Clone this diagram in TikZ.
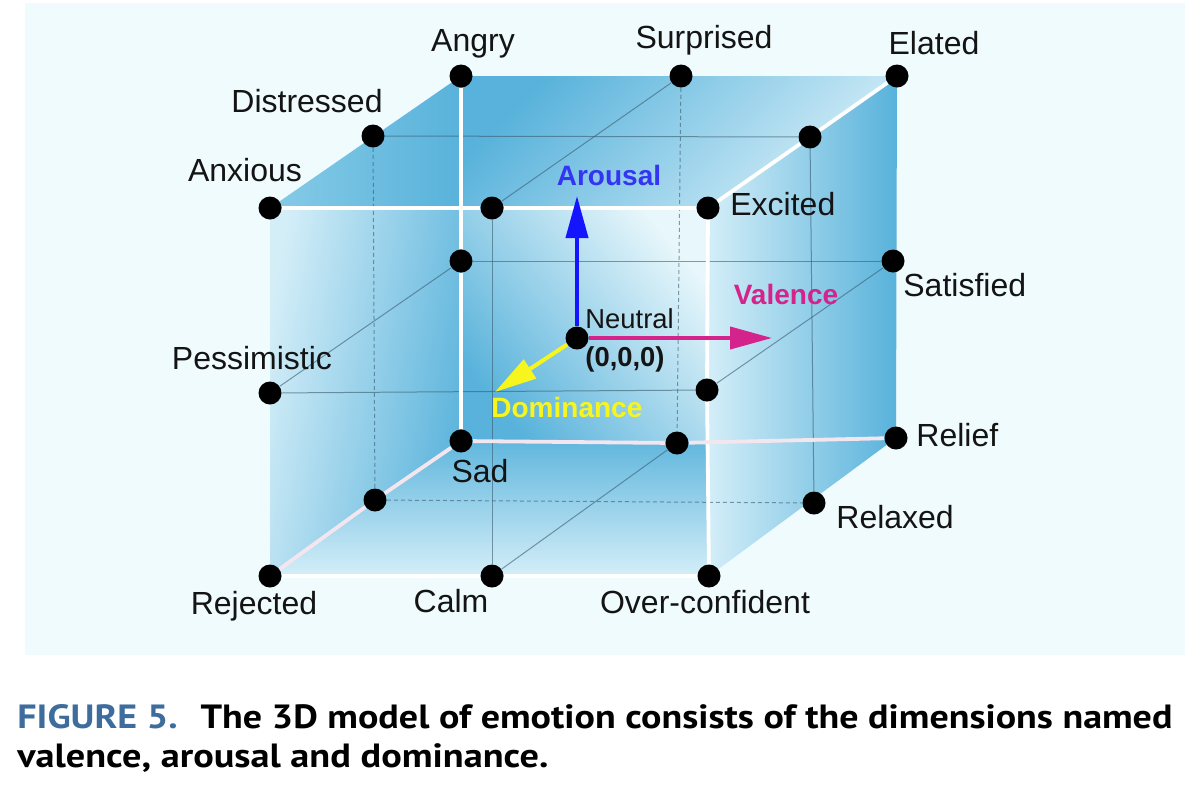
\documentclass[tikz,border=0pt]{standalone}
\usepackage{fontspec}
\setmainfont{Liberation Sans}
\newfontfamily\capfont{PT Sans}
\usepackage{graphicx}
\usetikzlibrary{arrows.meta}
\definecolor{panel}{HTML}{EFFBFC}
\definecolor{cdark}{HTML}{58B2DB}
\definecolor{cmid}{HTML}{86CBE7}
\definecolor{clight}{HTML}{D4EEF8}
\definecolor{cpale}{HTML}{E8F7FB}
\definecolor{gridc}{HTML}{3A5C70}
\definecolor{edgepink}{HTML}{F4E6EE}
\definecolor{aroblue}{HTML}{1414FF}
\definecolor{arotext}{HTML}{3434F2}
\definecolor{valmag}{HTML}{D4248C}
\definecolor{domyel}{HTML}{F6F61E}
\definecolor{figblue}{HTML}{3D6C9D}
\definecolor{txt}{HTML}{141414}
\begin{document}
\begin{tikzpicture}[x=0.5pt,y=-0.5pt,
  dot/.style={circle,fill=black,inner sep=0pt,minimum size=11.5pt},
  lbl/.style={inner sep=0pt,text=txt,font=\fontsize{16}{19}\selectfont},
  whiteedge/.style={draw=white,line width=1.9pt},
  pinkedge/.style={draw=edgepink,line width=1.9pt},
  gridline/.style={draw=gridc,line width=0.5pt,draw opacity=0.6},
  hiddenline/.style={gridline,dash pattern=on 2pt off 1.5pt},
  axisarrow/.style={line width=2pt,-{Triangle[length=21pt,width=11pt]}},
  axislbl/.style={inner sep=0pt,font=\bfseries\fontsize{14}{17}\selectfont},
]
\useasboundingbox (0,0) rectangle (1196,794);
\fill[white] (0,0) rectangle (1196,794);
\fill[panel] (25,3) rectangle (1185,655);

% positions
\coordinate (pang) at (461,76);
\coordinate (psur) at (681,76);
\coordinate (pela) at (897,76);
\coordinate (pdis) at (373,136);
\coordinate (ptm)  at (810,137);
\coordinate (panx) at (270,208);
\coordinate (pftm) at (492,208);
\coordinate (pexc) at (708,208);
\coordinate (pblm) at (461,261);
\coordinate (psat) at (893,261);
\coordinate (pneu) at (577,338);
\coordinate (ppes) at (270,393);
\coordinate (pfrm) at (707,390);
\coordinate (psad) at (461,441);
\coordinate (pbbm) at (677,443);
\coordinate (prel) at (896,438);
\coordinate (plbm) at (375,500);
\coordinate (prlx) at (814,503);
\coordinate (prej) at (270,576);
\coordinate (pcalm) at (492,576);
\coordinate (povc) at (709,576);
\coordinate (ctl) at (461,208);
\coordinate (cbr) at (708,441);

% faces
\shade[left color=cmid, right color=cdark] (panx) -- (pang) -- (ctl) -- cycle;
\shade[top color=cdark, middle color=cmid, bottom color=clight, shading angle=45] (ctl) -- (pang) -- (pela) -- (pexc) -- cycle;
\shade[left color=clight, middle color=cmid, right color=cdark, shading angle=80] (panx) -- (ctl) -- (psad) -- (prej) -- cycle;
\shade[top color=cpale, middle color=cmid!70!cdark, bottom color=cdark, shading angle=-50] (ctl) -- (pexc) -- (cbr) -- (psad) -- cycle;
\shade[top color=cdark!80!cmid, bottom color=clight] (psad) -- (cbr) -- (povc) -- (prej) -- cycle;
\shade[left color=clight, middle color=cmid, right color=cdark] (pexc) -- (pela) -- (prel) -- (povc) -- cycle;

% dots
\node[dot] (ang) at (pang) {};
\node[dot] (sur) at (psur) {};
\node[dot] (ela) at (pela) {};
\node[dot] (dis) at (pdis) {};
\node[dot] (tm) at (ptm) {};
\node[dot] (anx) at (panx) {};
\node[dot] (ftm) at (pftm) {};
\node[dot] (exc) at (pexc) {};
\node[dot] (blm) at (pblm) {};
\node[dot] (sat) at (psat) {};
\node[dot] (neu) at (pneu) {};
\node[dot] (pes) at (ppes) {};
\node[dot] (frm) at (pfrm) {};
\node[dot] (sad) at (psad) {};
\node[dot] (bbm) at (pbbm) {};
\node[dot] (rel) at (prel) {};
\node[dot] (lbm) at (plbm) {};
\node[dot] (rlx) at (prlx) {};
\node[dot] (rej) at (prej) {};
\node[dot] (calm) at (pcalm) {};
\node[dot] (ovc) at (povc) {};

% grid lines
\draw[gridline] (dis) -- (tm);
\draw[gridline] (ftm) -- (sur);
\draw[gridline] (ftm) -- (calm);
\draw[gridline] (pes) -- (frm);
\draw[gridline] (blm) -- (sat);
\draw[gridline] (pes) -- (blm);
\draw[gridline] (calm) -- (bbm);
\draw[gridline] (frm) -- (sat);
\draw[gridline] (tm) -- (rlx);
\draw[hiddenline] (sur) -- (bbm);
\draw[hiddenline] (dis) -- (lbm);
\draw[hiddenline] (lbm) -- (rlx);

% white edges
\draw[whiteedge] (anx) -- (ftm);
\draw[whiteedge] (ftm) -- (exc);
\draw[whiteedge] (exc) -- (tm);
\draw[whiteedge] (tm) -- (ela);
\draw[whiteedge] (exc) -- (frm);
\draw[whiteedge] (frm) -- (ovc);
\draw[whiteedge] (ang) -- (blm);
\draw[whiteedge] (blm) -- (sad);
\draw[whiteedge] (rej) -- (calm);
\draw[whiteedge] (calm) -- (ovc);
\draw[pinkedge] (sad) -- (bbm);
\draw[pinkedge] (bbm) -- (rel);
\draw[pinkedge] (sad) -- (lbm);
\draw[pinkedge] (lbm) -- (rej);

% axes
\coordinate (arotip) at (577,196);
\coordinate (valtip) at (772,338);
\coordinate (domtip) at (495,392);
\draw[axisarrow,draw=aroblue,fill=aroblue] (neu) -- (arotip);
\draw[axisarrow,draw=valmag,fill=valmag] (neu) -- (valtip);
\draw[axisarrow,draw=domyel,fill=domyel] (neu) -- (domtip);

% labels
\node[lbl,anchor=base] (lang) at (473,51) {Angry};
\node[lbl,anchor=base] (lsur) at (704,48) {Surprised};
\node[lbl,anchor=base] (lela) at (934,54) {Elated};
\node[lbl,anchor=base] (ldis) at (307,112) {Distressed};
\node[lbl,anchor=base] (lanx) at (245,181) {Anxious};
\node[lbl,anchor=base west] (lexc) at (730,215) {Excited};
\node[lbl,anchor=base west] (lsat) at (903,296) {Satisfied};
\node[lbl,anchor=base] (lpes) at (252,369) {Pessimistic};
\node[lbl,anchor=base west] (lrel) at (916,446) {Relief};
\node[lbl,anchor=base] (lsad) at (480,482) {Sad};
\node[lbl,anchor=base west] (lrlx) at (836,528) {Relaxed};
\node[lbl,anchor=base] (lrej) at (254,614) {Rejected};
\node[lbl,anchor=base] (lcalm) at (451,612) {Calm};
\node[lbl,anchor=base] (lovc) at (705,613) {Over-confident};
\node[inner sep=0pt,text=txt,anchor=base west,font=\fontsize{13.7}{16}\selectfont] (lneu) at (585,328) {Neutral};
\node[inner sep=0pt,text=txt,anchor=base west,font=\bfseries\fontsize{13.7}{16}\selectfont] (lorg) at (585,366) {(0,0,0)};
\node[axislbl,text=arotext,anchor=base] (laro) at (609,185) {Arousal};
\node[axislbl,text=valmag,anchor=base] (lval) at (786,304) {Valence};
\node[axislbl,text=domyel,anchor=base west] (ldom) at (491,417) {Dominance};

% caption
\node[inner sep=0pt,anchor=base west] (cap1) at (17,728) {\resizebox{577.5pt}{\height}{\capfont\bfseries\fontsize{16.8}{20}\selectfont\textcolor{figblue}{FIGURE 5.}\hspace{0.6em}The 3D model of emotion consists of the dimensions named}};
\node[inner sep=0pt,anchor=base west] (cap2) at (17,767) {\resizebox{265.5pt}{\height}{\capfont\bfseries\fontsize{16.8}{20}\selectfont valence, arousal and dominance.}};
\end{tikzpicture}
\end{document}
